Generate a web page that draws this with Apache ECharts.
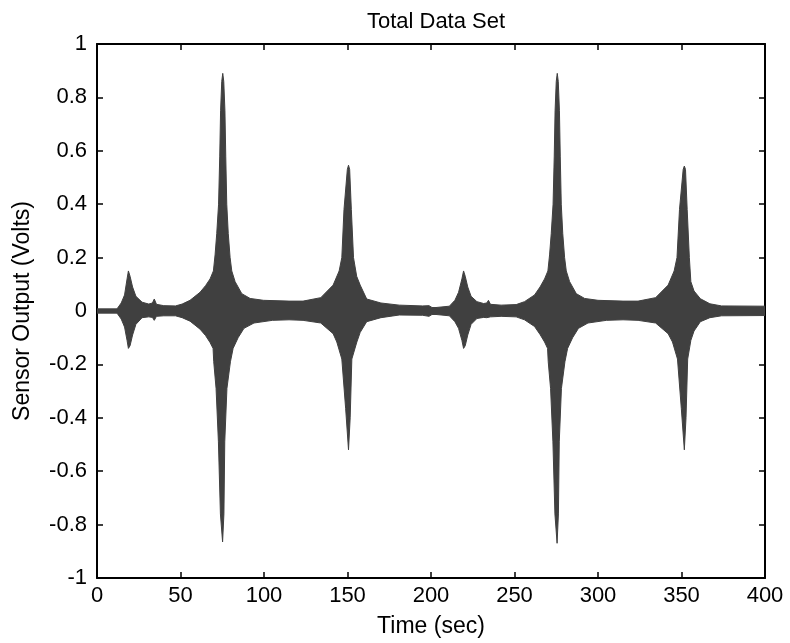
<!DOCTYPE html>
<html>
<head>
<meta charset="utf-8">
<script src="https://cdn.jsdelivr.net/npm/echarts@6/dist/echarts.min.js"></script>
<style>
html,body{margin:0;padding:0;background:#fff;}
#chart{width:790px;height:643px;}
</style>
</head>
<body>
<div id="chart"></div>
<script>
// Envelope of the dense sensor signal
var upperT = [0,12,14.5,16.5,18,18.8,19.8,21.3,23.3,27,31,33.2,34.3,35.6,40,47,51,55.7,61.7,65,67.7,69.7,70.7,71.7,72.8,73.5,74.0,74.7,75.3,75.9,76.6,77.1,77.7,78.6,79.7,80.7,82.7,86.7,91.7,99.7,115,123.4,134,141.4,145,146.6,147.9,149.9,150.6,151.3,152.3,153.6,155.5,157.6,161.5,170,181,195,198.8,199.6,200.6,
  203,211,214.3,216.5,218.5,219.5,220.5,222,224,227.5,231.5,233.4,234.4,235.6,242,251,256,262,265.3,268,270,271,272,273.1,273.8,274.3,275.0,275.6,276.2,276.9,277.4,278.0,278.9,280,281,283,287,292,300,315,324,334.5,342,345.6,347.3,348.8,351.0,351.7,352.4,353.4,354.7,355.6,357.5,361.3,367,374,400];
var upperV = [0.008,0.008,0.03,0.06,0.12,0.15,0.13,0.09,0.055,0.033,0.026,0.03,0.045,0.025,0.02,0.019,0.026,0.04,0.07,0.095,0.12,0.15,0.21,0.29,0.4,0.58,0.75,0.86,0.89,0.86,0.75,0.58,0.4,0.29,0.2,0.15,0.11,0.065,0.047,0.04,0.037,0.037,0.05,0.097,0.15,0.2,0.38,0.53,0.546,0.53,0.38,0.2,0.13,0.097,0.045,0.03,0.022,0.019,0.02,0.027,0.013,
  0.013,0.018,0.04,0.07,0.12,0.15,0.13,0.09,0.055,0.035,0.028,0.03,0.04,0.025,0.022,0.024,0.035,0.06,0.09,0.12,0.15,0.21,0.29,0.4,0.58,0.75,0.86,0.89,0.86,0.75,0.58,0.4,0.29,0.2,0.15,0.11,0.065,0.047,0.04,0.037,0.037,0.05,0.097,0.15,0.2,0.38,0.53,0.543,0.53,0.38,0.2,0.11,0.075,0.046,0.027,0.019,0.018];
var lowerT = [0,12,14.5,16.5,18,18.8,19.8,21.3,23.3,27,31,33.2,34.3,35.6,40,47,51,55.7,61.7,65,67.7,69.5,69.9,71.3,72.7,73.9,75.2,76.0,76.5,77.8,79.9,81.5,84.5,88,94,105,115,123.4,134,141.4,143.6,146.6,148.9,150.6,151.6,152.6,155.6,157.6,161.5,170,181,195,198.8,199.6,200.6,
  203,211,214.3,216.5,218.5,219.5,220.5,222,224,227.5,231.5,233.4,234.4,235.6,242,251,256,262,265.3,268,269.8,270.2,271.6,273.0,274.2,275.5,276.3,276.8,278.1,280.2,281.8,284.8,288.3,294,305,315,324,334.5,342,344.6,347.6,349.9,351.7,352.7,353.7,355.6,357.5,361.3,367,374,400];
var lowerV = [-0.008,-0.008,-0.03,-0.06,-0.11,-0.14,-0.13,-0.09,-0.05,-0.025,-0.022,-0.024,-0.035,-0.02,-0.018,-0.018,-0.025,-0.038,-0.068,-0.092,-0.118,-0.14,-0.19,-0.29,-0.49,-0.76,-0.865,-0.76,-0.49,-0.29,-0.19,-0.14,-0.1,-0.065,-0.045,-0.035,-0.033,-0.035,-0.045,-0.085,-0.116,-0.18,-0.366,-0.52,-0.4,-0.18,-0.116,-0.08,-0.04,-0.025,-0.015,-0.016,-0.02,-0.027,-0.013,
  -0.013,-0.018,-0.04,-0.065,-0.11,-0.14,-0.13,-0.09,-0.05,-0.028,-0.024,-0.025,-0.032,-0.022,-0.02,-0.022,-0.033,-0.058,-0.088,-0.116,-0.14,-0.19,-0.29,-0.49,-0.76,-0.87,-0.76,-0.49,-0.29,-0.19,-0.14,-0.1,-0.065,-0.045,-0.035,-0.033,-0.035,-0.045,-0.085,-0.116,-0.18,-0.366,-0.52,-0.4,-0.18,-0.11,-0.075,-0.04,-0.025,-0.018,-0.017];

var xTicks = [0,50,100,150,200,250,300,350,400];
var yTicks = [-1,-0.8,-0.6,-0.4,-0.2,0,0.2,0.4,0.6,0.8,1];

var titleText = 'Total Data Set';
var xName = 'Time (sec)';
var yName = 'Sensor Output (Volts)';

function pairs(t, v){ return t.map(function(x,i){ return [x, v[i]]; }); }

var FONT = 'Liberation Sans';
var col = '#404040';
var axisCommon = {
  axisLine: {show: true, onZero: false, lineStyle: {color: '#000', width: 2}},
  axisTick: {show: true, inside: true, length: 6, lineStyle: {color: '#000', width: 1.5}},
  splitLine: {show: false}
};

var chart = echarts.init(document.getElementById('chart'), null, {renderer: 'canvas'});
chart.setOption({
  animation: false,
  backgroundColor: '#fff',
  title: {
    text: titleText, left: 431, top: 6, textAlign: 'center',
    textStyle: {fontFamily: FONT, fontSize: 22, fontWeight: 'normal', color: '#000'}
  },
  grid: {left: 97, right: 25, top: 44, bottom: 64, containLabel: false},
  xAxis: [
    Object.assign({
      type: 'value', min: xTicks[0], max: xTicks[xTicks.length-1], interval: xTicks[1]-xTicks[0],
      position: 'bottom',
      name: xName, nameLocation: 'middle', nameGap: 37,
      nameTextStyle: {fontFamily: FONT, fontSize: 23, color: '#000'},
      axisLabel: {fontFamily: FONT, fontSize: 22, color: '#000', margin: 7}
    }, axisCommon),
    Object.assign({
      type: 'value', min: xTicks[0], max: xTicks[xTicks.length-1], interval: xTicks[1]-xTicks[0],
      position: 'top', axisLabel: {show: false}
    }, axisCommon)
  ],
  yAxis: [
    Object.assign({
      type: 'value', min: yTicks[0], max: yTicks[yTicks.length-1], interval: 0.2,
      position: 'left',
      name: yName, nameLocation: 'middle', nameGap: 63, nameRotate: 90,
      nameTextStyle: {fontFamily: FONT, fontSize: 23, color: '#000'},
      axisLabel: {fontFamily: FONT, fontSize: 22, color: '#000', margin: 10,
        formatter: function(v){ return String(Math.round(v*10)/10); }}
    }, axisCommon),
    Object.assign({
      type: 'value', min: yTicks[0], max: yTicks[yTicks.length-1], interval: 0.2,
      position: 'right', axisLabel: {show: false}
    }, axisCommon)
  ],
  series: [
    {
      type: 'line', data: pairs(upperT, upperV), showSymbol: false, symbol: 'none',
      lineStyle: {color: col, width: 1}, areaStyle: {color: col, opacity: 1, origin: -0.005},
      z: 1
    },
    {
      type: 'line', data: pairs(lowerT, lowerV), showSymbol: false, symbol: 'none',
      lineStyle: {color: col, width: 1}, areaStyle: {color: col, opacity: 1, origin: 0.005},
      z: 1
    }
  ]
});
</script>
</body>
</html>
